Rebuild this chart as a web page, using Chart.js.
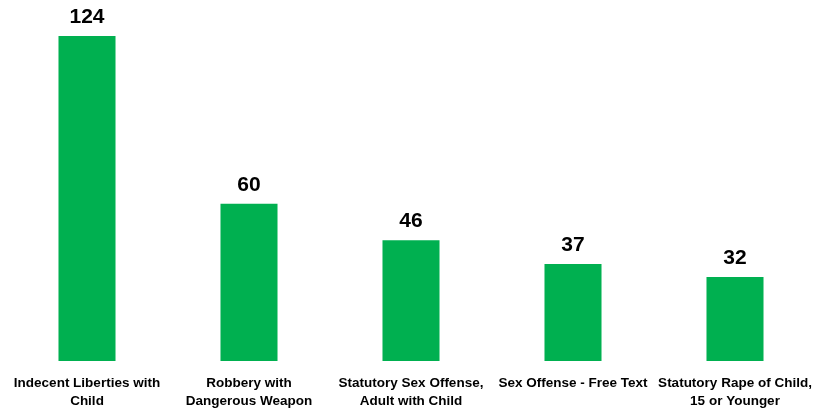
<!DOCTYPE html>
<html>
<head>
<meta charset="utf-8">
<script src="https://cdn.jsdelivr.net/npm/chart.js@4"></script>
<style>
  html, body { margin: 0; padding: 0; background: #fff; }
  #wrap { width: 830px; height: 411px; }
</style>
</head>
<body>
<div id="wrap"><canvas id="offenseChart"></canvas></div>
<script>
const categories = [
  ['Indecent Liberties with', 'Child'],
  ['Robbery with', 'Dangerous Weapon'],
  ['Statutory Sex Offense,', 'Adult with Child'],
  ['Sex Offense - Free Text'],
  ['Statutory Rape of Child,', '15 or Younger']
];
const counts = [124, 60, 46, 37, 32];

// numbers above each bar
const valueLabels = {
  id: 'valueLabels',
  afterDatasetsDraw(chart) {
    const ctx = chart.ctx;
    const meta = chart.getDatasetMeta(0);
    ctx.save();
    ctx.font = 'bold 21px "Liberation Sans", Arial, sans-serif';
    ctx.fillStyle = '#000';
    ctx.textAlign = 'center';
    ctx.textBaseline = 'alphabetic';
    meta.data.forEach((bar, i) => {
      ctx.fillText(counts[i], bar.x, bar.y - 13);
    });
    ctx.restore();
  }
};

const ctx = document.getElementById('offenseChart').getContext('2d');
new Chart(ctx, {
  type: 'bar',
  data: {
    labels: categories,
    datasets: [{
      data: counts,
      backgroundColor: '#00B050',
      barPercentage: 0.352,
      categoryPercentage: 1
    }]
  },
  options: {
    responsive: true,
    maintainAspectRatio: false,
    animation: false,
    layout: { padding: { left: 6, right: 14, top: 0, bottom: -5 } },
    plugins: {
      legend: { display: false },
      tooltip: { enabled: false }
    },
    scales: {
      x: {
        grid: { display: false },
        border: { display: false },
        ticks: {
          color: '#000',
          font: { family: '"Liberation Sans", Arial, sans-serif', weight: 'bold', size: 13.5, lineHeight: 1.3 },
          maxRotation: 0,
          autoSkip: false,
          padding: 6
        }
      },
      y: {
        display: false,
        min: 0,
        max: 137.7
      }
    }
  },
  plugins: [valueLabels]
});
</script>
</body>
</html>
